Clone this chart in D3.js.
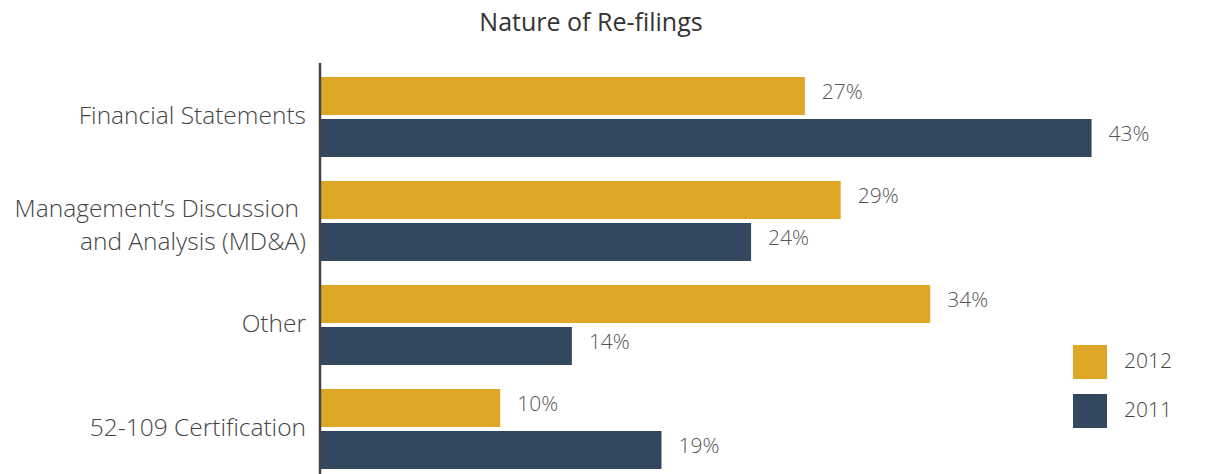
<!DOCTYPE html>
<html>
<head>
<meta charset="utf-8">
<script src="https://cdn.jsdelivr.net/npm/d3@7"></script>
<style>
  body { margin: 0; background: #fff; }
  svg { font-family: "Open Sans", sans-serif; }
</style>
</head>
<body>
<svg id="chart" width="1207" height="474"></svg>
<script>
// data
const categories = ["Financial Statements", "Management\u2019s Discussion\nand Analysis (MD&A)", "Other", "52-109 Certification"];
const years = ["2012", "2011"];
const values2012 = [27, 29, 34, 10];
const values2011 = [43, 24, 14, 19];

const colors = { "2012": "#DEA826", "2011": "#33475F" };

const svg = d3.select("#chart");

svg.append("text")
  .attr("x", 591).attr("y", 31)
  .attr("text-anchor", "middle")
  .attr("font-size", 25).attr("font-weight", 500)
  .attr("fill", "#333")
  .text("Nature of Re-filings");

const x = d3.scaleLinear().domain([0, 45]).range([321, 321 + 17.92 * 45]);

const y = d3.scaleBand()
  .domain(categories)
  .range([65, 481])
  .paddingInner(24 / 104)
  .paddingOuter(12 / 104);

const ySub = d3.scaleBand()
  .domain(years)
  .range([0, y.bandwidth()])
  .paddingInner(4 / 42);

const rows = categories.map((c, i) => ({
  cat: c,
  vals: [{ year: "2012", v: values2012[i] }, { year: "2011", v: values2011[i] }]
}));

const g = svg.selectAll(".grp")
  .data(rows)
  .enter().append("g")
  .attr("class", "grp")
  .attr("transform", d => `translate(0,${y(d.cat)})`);

g.selectAll("rect")
  .data(d => d.vals)
  .enter().append("rect")
  .attr("x", x(0))
  .attr("y", d => ySub(d.year))
  .attr("width", d => x(d.v) - x(0))
  .attr("height", ySub.bandwidth())
  .attr("fill", d => colors[d.year]);

g.selectAll(".val")
  .data(d => d.vals)
  .enter().append("text")
  .attr("class", "val")
  .attr("x", d => x(d.v) + 17)
  .attr("y", d => ySub(d.year) + ySub.bandwidth() / 2 - 4)
  .attr("dy", "0.35em")
  .attr("font-size", 21).attr("font-weight", 300)
  .attr("fill", "#555")
  .text(d => d.v + "%");

// category labels
g.each(function(d) {
  const lines = d.cat.split("\n");
  const t = d3.select(this).append("text")
    .attr("text-anchor", "end")
    .attr("font-size", 24.5).attr("font-weight", 300)
    .attr("fill", "#444");
  const lh = 33;
  const mid = lines.length > 1 ? y.bandwidth() / 2 + 4 : y.bandwidth() / 2 - 2;
  lines.forEach((l, i) => {
    t.append("tspan")
      .attr("x", i === 0 && lines.length > 1 ? 299 : 306)
      .attr("y", mid + (i - (lines.length - 1) / 2) * lh)
      .attr("dy", "0.35em")
      .text(l);
  });
});

// axis line
svg.append("line")
  .attr("x1", 320).attr("x2", 320)
  .attr("y1", 63).attr("y2", 474)
  .attr("stroke", "#444").attr("stroke-width", 2.5);

// legend
const leg = svg.selectAll(".leg")
  .data(years)
  .enter().append("g")
  .attr("class", "leg")
  .attr("transform", (d, i) => `translate(1073,${345 + i * 49})`);

leg.append("rect")
  .attr("width", 34).attr("height", 34)
  .attr("fill", d => colors[d]);

leg.append("text")
  .attr("x", 51).attr("y", 16)
  .attr("dy", "0.35em")
  .attr("font-size", 21).attr("font-weight", 300)
  .attr("fill", "#444")
  .text(d => d);
</script>
</body>
</html>
